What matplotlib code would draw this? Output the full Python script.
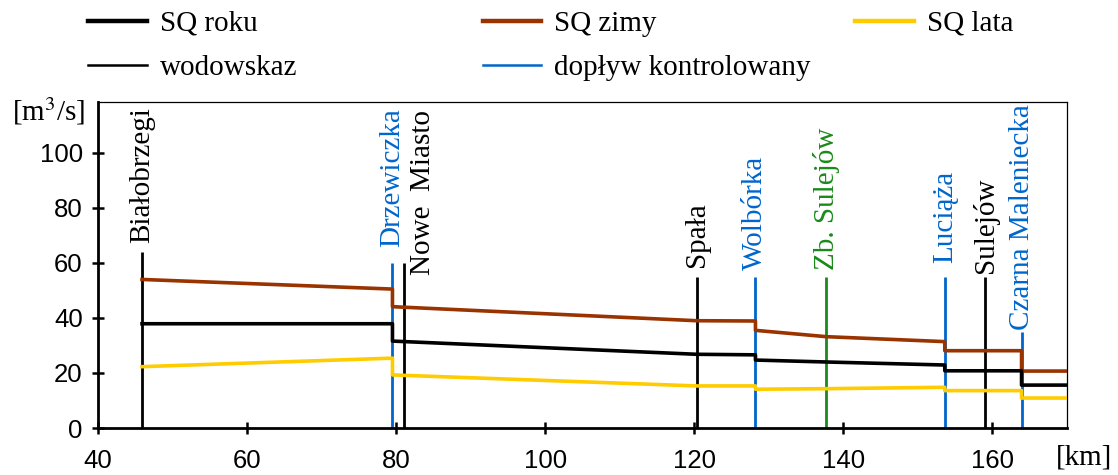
import matplotlib
matplotlib.use("Agg")
import matplotlib.pyplot as plt
from matplotlib.lines import Line2D

plt.rcParams["mathtext.fontset"] = "stix"

# ---- data ----
km = [45.9, 79.5, 79.5, 120.3, 128.2, 128.2, 137.7, 153.6, 153.6, 163.9, 163.9, 170.0]
sq_roku = [37.9, 37.9, 31.6, 26.8, 26.6, 24.7, 24.0, 22.9, 20.8, 20.8, 15.6, 15.6]
sq_zimy = [54.0, 50.5, 44.1, 39.0, 38.9, 35.5, 33.2, 31.4, 28.1, 28.1, 20.7, 20.7]
sq_lata = [22.3, 25.4, 19.3, 15.3, 15.3, 14.1, 14.3, 14.8, 13.6, 13.6, 10.9, 10.9]

marker_names = ["Białobrzegi", "Drzewiczka", "Nowe  Miasto", "Spała", "Wolbórka",
                "Zb. Sulejów", "Luciąża", "Sulejów", "Czarna Maleniecka"]
marker_km = [45.9, 79.5, 81.0, 120.3, 128.2, 137.7, 153.6, 159.0, 163.9]
marker_top = [64, 60, 60, 55, 55, 55, 55, 55, 35]
marker_kind = ["gauge", "trib", "gauge", "gauge", "trib", "res", "trib", "gauge", "trib"]
label_km = [45.9, 79.5, 83.6, 120.3, 128.2, 137.7, 153.6, 159.0, 163.9]
label_y = [67.3, 65.8, 55.6, 58.5, 57.5, 57.5, 60.0, 56.4, 35.6]

x_ticks = [40, 60, 80, 100, 120, 140, 160]
y_ticks = [0, 20, 40, 60, 80, 100]

# ---- style ----
C_ROKU = "#000000"
C_ZIMY = "#993300"
C_LATA = "#ffcc00"
C_BLUE = "#0066cc"
C_GREEN = "#1a8a1a"
kind_color = {"gauge": "#000000", "trib": C_BLUE, "res": C_GREEN}
SERIF = ["Liberation Serif", "DejaVu Serif"]
SANS = ["Liberation Sans", "DejaVu Sans"]
FS = 21

fig = plt.figure(figsize=(11.18, 4.75), dpi=100)
ax = fig.add_axes([0.0877, 0.0989, 0.9544 - 0.0877, 0.7853 - 0.0989])

for x, top, kind in zip(marker_km, marker_top, marker_kind):
    ax.plot([x, x], [0, top], color=kind_color[kind], lw=2.0, zorder=2,
            solid_capstyle="butt")

ax.plot(km, sq_lata, color=C_LATA, lw=2.6, zorder=3)
ax.plot(km, sq_zimy, color=C_ZIMY, lw=2.6, zorder=3)
ax.plot(km, sq_roku, color=C_ROKU, lw=2.6, zorder=3)

for name, lx, ly, kind in zip(marker_names, label_km, label_y, marker_kind):
    ax.text(lx, ly, name, rotation=90, ha="center", va="bottom",
            color=kind_color[kind], family=SERIF, fontsize=FS, zorder=4)

ax.set_xlim(40, 170)
ax.set_ylim(0, 118.5)
ax.set_xticks(x_ticks)
ax.set_yticks(y_ticks)
ax.tick_params(direction="inout", length=8, width=1.8, labelsize=18.5)
ax.tick_params(axis="x", pad=11)
ax.tick_params(axis="y", pad=7)
for lab in ax.get_xticklabels() + ax.get_yticklabels():
    lab.set_family(SANS)
for s in ["left", "bottom"]:
    ax.spines[s].set_linewidth(2.0)
for s in ["top", "right"]:
    ax.spines[s].set_linewidth(0.9)

fig.text(0.076, 0.765, "[m$^{3}$/s]", ha="right", va="center", family=SERIF, fontsize=FS)
fig.text(0.9946, 0.036, "[km]", ha="right", va="center", family=SERIF, fontsize=FS)

# ---- legends (three columns) ----
def h(color, lw):
    return Line2D([], [], color=color, lw=lw)

cols = [
    ([h(C_ROKU, 3.2), h("#000000", 1.8)], ["SQ roku", "wodowskaz"], 0.079),
    ([h(C_ZIMY, 3.2), h(C_BLUE, 1.8)], ["SQ zimy", "dopływ kontrolowany"], 0.432),
    ([h(C_LATA, 3.2)], ["SQ lata"], 0.765),
]
for handles, labels, xpos in cols:
    leg = fig.legend(handles, labels, loc="upper left", bbox_to_anchor=(xpos, 0.978),
                     frameon=False, prop={"family": SERIF, "size": FS},
                     handlelength=2.0, handletextpad=0.45, labelspacing=0.62,
                     borderpad=0.0, borderaxespad=0.0)

fig.savefig("out.png", dpi=100)
